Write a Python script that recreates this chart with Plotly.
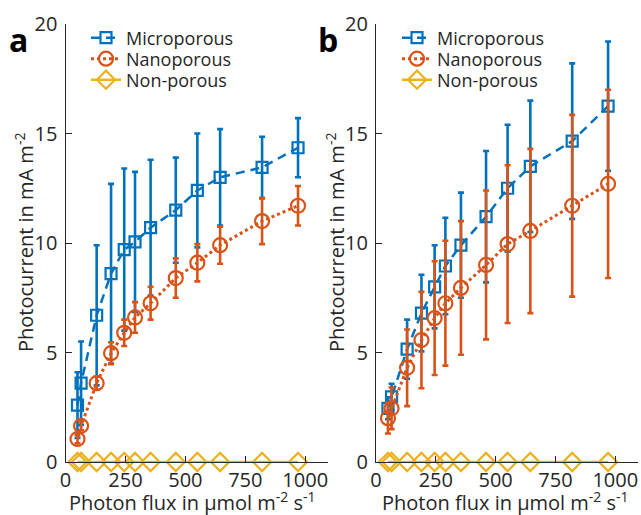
import plotly.graph_objects as go

# ---- data ----
flux = [50, 65, 130, 190, 245, 290, 355, 460, 550, 645, 820, 970]

micro_a = [2.6, 3.6, 6.7, 8.6, 9.7, 10.05, 10.7, 11.5, 12.4, 13.0, 13.45, 14.35]
micro_a_err = [1.5, 1.9, 3.2, 4.1, 3.7, 3.2, 3.1, 2.4, 2.6, 2.2, 1.4, 1.35]
nano_a = [1.05, 1.65, 3.6, 4.97, 5.9, 6.6, 7.25, 8.4, 9.1, 9.9, 11.0, 11.7]
nano_a_err = [0.2, 0.2, 0.3, 0.5, 0.6, 0.7, 0.75, 0.9, 0.85, 0.85, 1.05, 0.9]

micro_b = [2.45, 2.97, 5.15, 6.8, 8.0, 8.95, 9.9, 11.2, 12.5, 13.5, 14.65, 16.25]
micro_b_err = [0.5, 0.6, 1.35, 1.75, 1.9, 2.2, 2.4, 3.0, 2.9, 3.0, 3.55, 2.95]
nano_b = [2.0, 2.45, 4.3, 5.57, 6.57, 7.25, 7.95, 9.0, 9.95, 10.55, 11.7, 12.7]
nano_b_err = [0.7, 0.95, 1.75, 2.2, 2.6, 2.85, 3.05, 3.4, 3.6, 3.75, 4.15, 4.3]

nonporous = [0, 0, 0, 0, 0, 0, 0, 0, 0, 0, 0, 0]

names = ["Microporous", "Nanoporous", "Non-porous"]
x_ticks = [0, 250, 500, 750, 1000]
y_ticks = [0, 5, 10, 15, 20]

# ---- styles ----
C_BLUE = "#0072BD"
C_ORANGE = "#D95319"
C_YELLOW = "#EDB120"
TXT = "#262626"
FONT = "Open Sans"

W, H = 641, 515
def px(xp):
    return xp / W
def py(yp):
    return 1 - yp / H

fig = go.Figure()

panels = [
    ("x", "y", ["legend", "legend2", "legend3"], micro_a, micro_a_err, nano_a, nano_a_err),
    ("x2", "y2", ["legend4", "legend5", "legend6"], micro_b, micro_b_err, nano_b, nano_b_err),
]

for xa, ya, lgs, mic, mic_e, nan, nan_e in panels:
    fig.add_trace(go.Scatter(
        x=flux, y=mic, name=names[0], xaxis=xa, yaxis=ya, legend=lgs[0], showlegend=True,
        mode="lines+markers",
        line=dict(color=C_BLUE, width=2.5, dash="9px,6px"),
        marker=dict(symbol="square-open", size=11, color=C_BLUE, line=dict(width=2.2, color=C_BLUE)),
        error_y=dict(type="data", array=mic_e, visible=True, color=C_BLUE, thickness=2.6, width=3),
        cliponaxis=False,
    ))
    fig.add_trace(go.Scatter(
        x=flux, y=nan, name=names[1], xaxis=xa, yaxis=ya, legend=lgs[1], showlegend=True,
        mode="lines+markers",
        line=dict(color=C_ORANGE, width=3, dash="dot"),
        marker=dict(symbol="circle-open", size=14, color=C_ORANGE, line=dict(width=2.2, color=C_ORANGE)),
        error_y=dict(type="data", array=nan_e, visible=True, color=C_ORANGE, thickness=2.6, width=3),
        cliponaxis=False,
    ))
    fig.add_trace(go.Scatter(
        x=flux, y=nonporous, name=names[2], xaxis=xa, yaxis=ya, legend=lgs[2], showlegend=True,
        mode="lines+markers",
        line=dict(color=C_YELLOW, width=2.5),
        marker=dict(symbol="diamond-open", size=14, color=C_YELLOW, line=dict(width=2.2, color=C_YELLOW)),
        cliponaxis=False,
    ))

axis_common = dict(
    showgrid=False, zeroline=False, showline=True, linecolor=TXT, linewidth=1.2,
    ticks="inside", ticklen=6, tickwidth=1.2, tickcolor=TXT, automargin=False,
    tickfont=dict(family=FONT, size=20, color=TXT),
)

legend_layout = {}
legend_rows = [38, 59, 80]
for pi, (xl, lgs) in enumerate(((86, panels[0][2]), (397, panels[1][2]))):
    for lg, yr in zip(lgs, legend_rows):
        legend_layout[lg] = dict(
            x=px(xl), y=py(yr), xanchor="left", yanchor="middle", bgcolor="rgba(0,0,0,0)",
            font=dict(family=FONT, size=18, color=TXT), itemwidth=30,
            borderwidth=0, visible=True,
        )

fig.update_layout(
    width=W, height=H,
    showlegend=True,
    margin=dict(l=0, r=0, t=0, b=0, autoexpand=False),
    paper_bgcolor="white", plot_bgcolor="white",
    font=dict(family=FONT, color=TXT),
    xaxis=dict(domain=[px(65.5), px(328)], range=[0, 1095], tickvals=x_ticks, anchor="y", **axis_common),
    yaxis=dict(domain=[py(462), py(24)], range=[0, 20], tickvals=y_ticks, anchor="x", ticklabelstandoff=3, **axis_common),
    xaxis2=dict(domain=[px(376), px(638)], range=[0, 1095], tickvals=x_ticks, anchor="y2", **axis_common),
    yaxis2=dict(domain=[py(462), py(24)], range=[0, 20], tickvals=y_ticks, anchor="x2", ticklabelstandoff=3, **axis_common),
    **legend_layout,
)

ytitle = "Photocurrent in mA m<sup>-2</sup>"
xtitle = "Photon flux in µmol m<sup>-2</sup> s<sup>-1</sup>"
ann = []
for xc in (px(24), px(335)):
    ann.append(dict(text=ytitle, x=xc, y=py(243), xref="paper", yref="paper", textangle=-90,
                    showarrow=False, xanchor="center", yanchor="middle",
                    font=dict(family=FONT, size=20, color=TXT)))
for xc in (px(192), px(505)):
    ann.append(dict(text=xtitle, x=xc, y=py(501), xref="paper", yref="paper",
                    showarrow=False, xanchor="center", yanchor="middle",
                    font=dict(family=FONT, size=20, color=TXT)))
for lab, xl in (("a", 7), ("b", 316)):
    ann.append(dict(text="<b>%s</b>" % lab, x=px(xl), y=py(40), xref="paper", yref="paper",
                    showarrow=False, xanchor="left", yanchor="middle",
                    font=dict(family=FONT, size=32, color="black")))
fig.update_layout(annotations=ann)

fig.write_html("out.html")
